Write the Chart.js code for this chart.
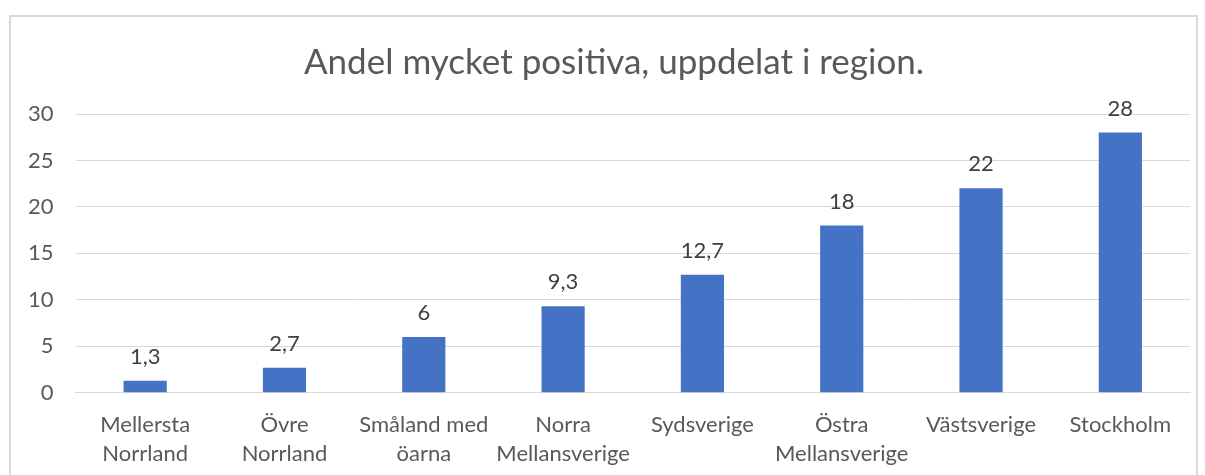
<!DOCTYPE html>
<html><head><meta charset="utf-8">
<script src="https://cdn.jsdelivr.net/npm/chart.js@4"></script>
<style>
html,body{margin:0;padding:0;background:#fff;}
#wrap{position:relative;width:1205px;height:475px;}
#frame{position:absolute;left:9px;top:15px;width:1189px;height:470px;border:2px solid #d9d9d9;box-sizing:border-box;}
canvas{position:absolute;left:0;top:0;}
</style></head>
<body><div id="wrap"><div id="frame"></div><canvas id="c" width="1205" height="475"></canvas></div>
<script>
const titleText = "Andel mycket positiva, uppdelat i region.";
const categories = [["Mellersta","Norrland"],["Övre","Norrland"],["Småland med","öarna"],["Norra","Mellansverige"],["Sydsverige"],["Östra","Mellansverige"],["Västsverige"],["Stockholm"]];
const values = [1.3, 2.7, 6, 9.3, 12.7, 18, 22, 28];
const yTicks = [0, 5, 10, 15, 20, 25, 30];

const FONT = "Lato, 'Liberation Sans', sans-serif";
const labelPlugin = {
  id: 'valueLabels',
  afterDatasetsDraw(chart) {
    const ctx = chart.ctx;
    const meta = chart.getDatasetMeta(0);
    ctx.save();
    ctx.font = "22px " + FONT;
    ctx.fillStyle = "#404040";
    ctx.textAlign = "center";
    ctx.textBaseline = "alphabetic";
    meta.data.forEach((bar, i) => {
      const txt = String(values[i]).replace('.', ',');
      ctx.fillText(txt, bar.x, bar.y - 17);
    });
    // chart title, centred on the chart frame
    ctx.font = "35px " + FONT;
    ctx.fillStyle = "#595959";
    ctx.textBaseline = "middle";
    ctx.fillText(titleText, 614, 63);
    ctx.restore();
  }
};

new Chart(document.getElementById('c'), {
  type: 'bar',
  data: {
    labels: categories,
    datasets: [{ data: values, backgroundColor: '#4472C4', barPercentage: 0.31, categoryPercentage: 1 }]
  },
  options: {
    responsive: false,
    animation: false,
    layout: { padding: { left: 6, right: 15, top: 114, bottom: -11 } },
    plugins: {
      legend: { display: false },
      tooltip: { enabled: false },
      title: { display: false }
    },
    scales: {
      x: {
        grid: { display: false, drawTicks: false },
        border: { display: true, color: '#d9d9d9' },
        ticks: { color: '#595959', font: { family: FONT, size: 22, lineHeight: 1.3 }, padding: 18, maxRotation: 0, autoSkip: false }
      },
      y: {
        min: 0, max: 30,
        afterBuildTicks(axis) { axis.ticks = yTicks.map(v => ({ value: v })); },
        grid: { color: '#d9d9d9', drawTicks: false },
        border: { display: false },
        ticks: { color: '#595959', font: { family: FONT, size: 22 }, padding: 22 }
      }
    }
  },
  plugins: [labelPlugin]
});
</script></body></html>
